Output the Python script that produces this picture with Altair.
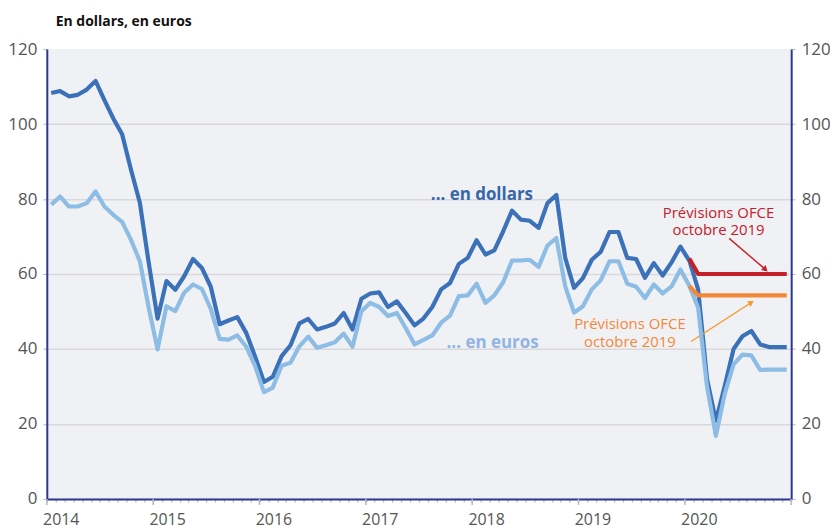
import altair as alt
import pandas as pd

# ---- data (monthly averages, Jan 2014 .. Dec 2020) ----
years = ["2014", "2015", "2016", "2017", "2018", "2019", "2020"]

dollars = [
    108.3, 108.8, 107.4, 107.8, 109.2, 111.5, 106.4, 101.5, 97.3, 87.8, 79.0, 63.0,
    48.1, 58.1, 55.8, 59.4, 64.0, 61.6, 56.6, 46.6, 47.6, 48.5, 44.3, 38.0,
    31.2, 32.6, 38.1, 41.0, 46.8, 48.0, 45.2, 45.9, 46.8, 49.6, 45.2, 53.4,
    54.8, 55.1, 51.2, 52.7, 49.6, 46.3, 48.1, 51.2, 55.9, 57.6, 62.7, 64.3,
    69.0, 65.2, 66.3, 71.4, 76.9, 74.5, 74.2, 72.3, 78.9, 81.1, 64.3, 56.3,
    58.9, 63.8, 65.9, 71.2, 71.2, 64.3, 64.0, 59.0, 62.9, 59.6, 63.1, 67.3,
    63.6, 55.9, 32.0, 20.8, 30.1, 40.0, 43.4, 44.8, 41.2, 40.5, 40.5, 40.5,
]
euros = [
    78.5, 80.7, 78.0, 78.0, 78.9, 82.0, 78.0, 75.8, 73.9, 69.1, 63.4, 51.0,
    39.9, 51.4, 50.1, 55.0, 57.2, 56.0, 50.7, 42.7, 42.5, 43.6, 40.6, 35.5,
    28.5, 29.7, 35.5, 36.3, 40.7, 43.3, 40.3, 41.0, 41.8, 44.1, 40.6, 50.1,
    52.3, 51.2, 48.8, 49.6, 45.6, 41.2, 42.4, 43.6, 47.0, 48.9, 54.1, 54.3,
    57.4, 52.3, 54.3, 57.8, 63.6, 63.6, 63.8, 61.9, 67.6, 69.6, 56.7, 49.7,
    51.4, 55.9, 58.3, 63.4, 63.4, 57.4, 56.6, 53.6, 57.2, 54.8, 56.7, 61.2,
    56.9, 51.0, 30.0, 16.8, 28.0, 35.9, 38.5, 38.3, 34.4, 34.5, 34.5, 34.5,
]
# OFCE forecasts (Jan..Dec 2020)
prev_dollars = [64.1, 60.0, 60.0, 60.0, 60.0, 60.0, 60.0, 60.0, 60.0, 60.0, 60.0, 60.0]
prev_euros = [56.8, 54.3, 54.3, 54.3, 54.3, 54.3, 54.3, 54.3, 54.3, 54.3, 54.3, 54.3]

y_ticks = [0, 20, 40, 60, 80, 100, 120]

# annotations (data coordinates: month index, value of first line)
labels_text = ["... en dollars", "... en euros", "Prévisions OFCE\noctobre 2019", "Prévisions OFCE\noctobre 2019"]
labels_x = [49.1, 50.3, 75.8, 65.8]
labels_y = [81.1, 41.5, 76.4, 46.7]
labels_kind = ["dollars", "euros", "prev_d", "prev_e"]

arrows_kind = ["prev_d", "prev_e"]
arrows_x = [77.0, 72.7]
arrows_y = [69.5, 42.0]
arrows_x2 = [81.1, 79.5]
arrows_y2 = [61.2, 52.4]
arrows_angle = [131.6, 57.4]

# ---- styling ----
NAVY = "#2b3592"
C_DOL = "#3a71b8"
C_EUR = "#8dbde4"
C_RED = "#c3202a"
C_ORA = "#f4883a"
FONT = "Open Sans"

n = len(dollars)
months = [i + 0.5 for i in range(n)]
series = pd.DataFrame({
    "m": months * 2,
    "v": dollars + euros,
    "s": ["dollars"] * n + ["euros"] * n,
})
start = n - len(prev_dollars)
prev = pd.DataFrame({
    "m": months[start:] * 2,
    "v": prev_dollars + prev_euros,
    "s": ["prev_d"] * len(prev_dollars) + ["prev_e"] * len(prev_euros),
})
labels = pd.DataFrame({"t": labels_text, "x": labels_x, "y": labels_y, "k": labels_kind})
arrows = pd.DataFrame({"k": arrows_kind, "x": arrows_x, "y": arrows_y,
                       "x2": arrows_x2, "y2": arrows_y2, "a": arrows_angle})
year_idx = pd.DataFrame({"m": [12 * i for i in range(len(years) + 1)]})

xmax = 84
xscale = alt.Scale(domain=[0, xmax], nice=False, zero=False)
yscale = alt.Scale(domain=[0, 120], nice=False)

year_expr = "datum.value % 12 == 0 && datum.value < 84 ? '' + (2014 + datum.value / 12) : ''"

x_axis = alt.Axis(
    values=list(range(0, xmax + 1)), labelExpr=year_expr, title=None,
    tickSize=3, tickColor="#b8b8bc", tickWidth=1.2,
    domainColor=NAVY, domainWidth=2, grid=False,
    labelFont=FONT, labelFontSize=16, labelColor="#555555",
    labelAlign="center", labelOffset=14, labelPadding=10,
    labelOverlap=False, labelBound=False, labelFlush=False,
)
y_left = alt.Axis(
    values=y_ticks, title=None, grid=True,
    gridColor=alt.condition("datum.value == 120 || datum.value == 0", alt.value("transparent"), alt.value("#d9d9dd")),
    gridWidth=1.5,
    domainColor=NAVY, domainWidth=2, tickSize=4, tickColor="#b8b8bc",
    labelFont=FONT, labelFontSize=17, labelColor="#555555", labelPadding=6,
)
y_right = alt.Axis(
    values=y_ticks, title=None, grid=False, orient="right",
    domainColor=NAVY, domainWidth=2, tickSize=4, tickColor="#b8b8bc",
    labelFont=FONT, labelFontSize=17, labelColor="#555555", labelPadding=6,
)

X = lambda f: alt.X(f, type="quantitative", scale=xscale, axis=x_axis)
YL = lambda f: alt.Y(f, type="quantitative", scale=yscale, axis=y_left)
YR = lambda f: alt.Y(f, type="quantitative", scale=yscale, axis=y_right)

def line(df, kind, color, Y):
    return alt.Chart(df).transform_filter(alt.datum.s == kind).mark_line(
        color=color, strokeWidth=4.2, strokeJoin="round"
    ).encode(x=X("m"), y=Y("v"))

dol = line(series, "dollars", C_DOL, YL)
eur = line(series, "euros", C_EUR, YR)
p_d = line(prev, "prev_d", C_RED, YR)
p_e = line(prev, "prev_e", C_ORA, YR)

year_ticks = alt.Chart(year_idx).mark_rule(color="#b8b8bc", strokeWidth=1.5).encode(
    x=X("m"),
    y=alt.value(452), y2=alt.value(458),
)

def text_layer(kind, color, size, weight):
    return alt.Chart(labels).transform_filter(alt.datum.k == kind).mark_text(
        font=FONT, fontSize=size, fontWeight=weight, color=color,
        align="center", baseline="middle", lineBreak="\n", lineHeight=18,
    ).encode(x=X("x"), y=YL("y"), text="t:N")

t_dol = text_layer("dollars", "#3567aa", 17, "bold")
t_eur = text_layer("euros", "#8fb5e0", 17, "bold")
t_pd = text_layer("prev_d", C_RED, 15, "normal")
t_pe = text_layer("prev_e", C_ORA, 15, "normal")

def arrow(kind, color):
    base = alt.Chart(arrows).transform_filter(alt.datum.k == kind)
    shaft = base.mark_rule(color=color, strokeWidth=1.4).encode(
        x=X("x"), y=YL("y"), x2="x2:Q", y2="y2:Q",
    )
    head = base.mark_point(shape="triangle-up", filled=True, color=color, size=45, opacity=1).encode(
        x=X("x2"), y=YL("y2"),
        angle=alt.Angle("a:Q", scale=None),
    )
    return shaft + head

a_d = arrow("prev_d", C_RED)
a_e = arrow("prev_e", "#f39a2a")

left_group = alt.layer(dol, year_ticks, t_dol, t_eur, t_pd, t_pe, a_d, a_e)
right_group = alt.layer(eur, p_d, p_e)

chart = alt.layer(left_group, right_group).resolve_scale(y="independent").properties(
    width=748, height=452,
    autosize=alt.AutoSizeParams(type="none"),
    padding={"left": 39, "top": 40, "right": 39, "bottom": 40},
    title=alt.TitleParams(
        "En dollars, en euros", anchor="start", frame="group",
        font=FONT, fontSize=14, fontWeight="bold", color="#111111",
        dx=9, offset=11,
    ),
).configure_view(fill="#f0f1f4", stroke=None)

chart.save("out.html", embed_options={"renderer": "svg", "actions": False})
